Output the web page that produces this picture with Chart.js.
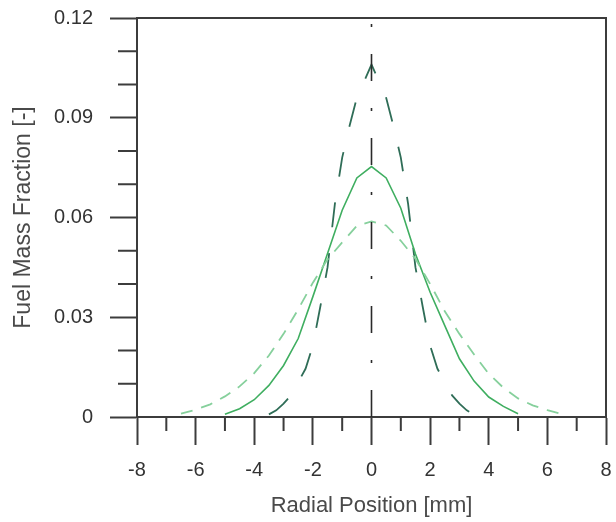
<!DOCTYPE html>
<html lang="en">
<head>
    <meta charset="UTF-8">
    <title>Fuel Mass Fraction vs Radial Position</title>
    <script src="https://cdn.jsdelivr.net/npm/chart.js"></script>
    <style>
        body {
            margin: 0;
            padding: 0;
            background-color: #fff;
        }
        .chart-box {
            width: 616px;
            height: 522px;
        }
    </style>
</head>
<body>
    <div class="chart-box">
        <canvas id="fuelChart"></canvas>
    </div>

    <script>
        // axis ticks
        const xTicks = [-8, -6, -4, -2, 0, 2, 4, 6, 8];
        const xMinorTicks = [-7, -5, -3, -1, 1, 3, 5, 7];
        const yTicks = [0, 0.03, 0.06, 0.09, 0.12];
        const yTickLabels = ['0', '0.03', '0.06', '0.09', '0.12'];
        const yMinorTicks = [0.01, 0.02, 0.04, 0.05, 0.07, 0.08, 0.10, 0.11];

        // solid curve
        const solidX = [-5, -4.5, -4, -3.5, -3, -2.5, -2, -1.5, -1, -0.5, 0, 0.5, 1, 1.5, 2, 2.5, 3, 3.5, 4, 4.5, 5];
        const solidY = [0.0008, 0.0025, 0.0052, 0.0095, 0.0155, 0.0236, 0.0362, 0.0492, 0.0622, 0.0719, 0.0753,
                        0.0719, 0.0628, 0.0490, 0.0375, 0.0275, 0.0175, 0.0108, 0.0060, 0.0032, 0.0010];

        // light short-dash curve
        const lightX = [-6.5, -6, -5.5, -5, -4.5, -4, -3.5, -3, -2.5, -2, -1.5, -1, -0.5, 0,
                        0.5, 1, 1.5, 2, 2.5, 3, 3.5, 4, 4.5, 5, 5.5, 6, 6.5];
        const lightY = [0.0010, 0.0022, 0.0038, 0.0062, 0.0092, 0.0132, 0.0185, 0.0250, 0.0324, 0.0404, 0.0474, 0.0525, 0.0575, 0.0588,
                        0.0576, 0.0530, 0.0476, 0.0400, 0.0318, 0.0250, 0.0188, 0.0130, 0.0088, 0.0056, 0.0035, 0.0021, 0.0009];

        // dark long-dash curve
        const darkX = [-3.5, -3.25, -3, -2.75, -2.5, -2.25, -2, -1.75, -1.5, -1.25, -1, -0.75, -0.5, -0.25, 0,
                       0.25, 0.5, 0.75, 1, 1.25, 1.5, 1.75, 2, 2.25, 2.5, 2.75, 3, 3.25, 3.5];
        const darkY = [0.0008, 0.0020, 0.0040, 0.0065, 0.0105, 0.0145, 0.0215, 0.0330, 0.0450, 0.0640, 0.0780, 0.0875, 0.0960, 0.1010, 0.1060,
                       0.1010, 0.0960, 0.0875, 0.0780, 0.0640, 0.0450, 0.0330, 0.0215, 0.0145, 0.0105, 0.0065, 0.0040, 0.0020, 0.0008];

        // centre line
        const centerX = [0, 0];
        const centerY = [0, 0.12];

        const axisColor = '#3c3c3c';

        function toPoints(xs, ys) {
            return xs.map((x, i) => ({ x: x, y: ys[i] }));
        }

        // top/right frame and the short minor ticks
        const frameAndMinorTicks = {
            id: 'frameAndMinorTicks',
            afterDraw(chart) {
                const ctx = chart.ctx;
                const area = chart.chartArea;
                const xs = chart.scales.x;
                const ys = chart.scales.y;
                ctx.save();
                ctx.strokeStyle = axisColor;
                ctx.lineWidth = 2;
                ctx.beginPath();
                ctx.moveTo(area.left, area.top);
                ctx.lineTo(area.right, area.top);
                ctx.lineTo(area.right, area.bottom);
                xMinorTicks.forEach(v => {
                    const px = xs.getPixelForValue(v);
                    ctx.moveTo(px, area.bottom);
                    ctx.lineTo(px, area.bottom + 14);
                });
                yMinorTicks.forEach(v => {
                    const py = ys.getPixelForValue(v);
                    ctx.moveTo(area.left, py);
                    ctx.lineTo(area.left - 19, py);
                });
                ctx.stroke();
                ctx.restore();
            }
        };

        const ctx = document.getElementById('fuelChart').getContext('2d');
        new Chart(ctx, {
            type: 'line',
            data: {
                datasets: [
                    {
                        label: 'centre',
                        data: toPoints(centerX, centerY),
                        borderColor: '#2a2a2a',
                        borderWidth: 1.6,
                        borderDash: [27, 27, 3, 27]
                    },
                    {
                        label: 'light',
                        data: toPoints(lightX, lightY),
                        borderColor: '#86d09c',
                        borderWidth: 1.8,
                        borderDash: [12, 9]
                    },
                    {
                        label: 'solid',
                        data: toPoints(solidX, solidY),
                        borderColor: '#3fae60',
                        borderWidth: 1.6
                    },
                    {
                        label: 'dark',
                        data: toPoints(darkX, darkY),
                        borderColor: '#2f6d57',
                        borderWidth: 1.8,
                        borderDash: [25, 26]
                    }
                ]
            },
            options: {
                responsive: true,
                maintainAspectRatio: false,
                animation: false,
                layout: {
                    padding: { top: 18, right: 10, bottom: 0, left: 0 }
                },
                elements: {
                    point: { radius: 0 },
                    line: { tension: 0, fill: false }
                },
                plugins: {
                    legend: { display: false },
                    tooltip: { enabled: false }
                },
                scales: {
                    x: {
                        type: 'linear',
                        min: -8,
                        max: 8,
                        afterBuildTicks: function (scale) {
                            scale.ticks = xTicks.map(v => ({ value: v }));
                        },
                        afterFit: function (scale) {
                            scale.height = 105;
                            scale.paddingLeft = 0;
                            scale.paddingRight = 0;
                        },
                        grid: {
                            drawOnChartArea: false,
                            drawTicks: true,
                            tickLength: 28,
                            tickColor: axisColor,
                            tickWidth: 2
                        },
                        border: { display: true, color: axisColor, width: 2 },
                        ticks: {
                            padding: 13,
                            color: '#333',
                            font: { family: 'Liberation Sans, Arial, sans-serif', size: 20 },
                            maxRotation: 0
                        },
                        title: {
                            display: true,
                            text: 'Radial Position [mm]',
                            color: '#4a4a4a',
                            font: { family: 'Liberation Sans, Arial, sans-serif', size: 22 },
                            padding: { top: 0, bottom: 3 }
                        }
                    },
                    y: {
                        min: 0,
                        max: 0.12,
                        afterBuildTicks: function (scale) {
                            scale.ticks = yTicks.map(v => ({ value: v }));
                        },
                        afterFit: function (scale) {
                            scale.width = 137;
                            scale.paddingTop = 0;
                            scale.paddingBottom = 0;
                        },
                        grid: {
                            drawOnChartArea: false,
                            drawTicks: true,
                            tickLength: 27,
                            tickColor: axisColor,
                            tickWidth: 2
                        },
                        border: { display: true, color: axisColor, width: 2 },
                        ticks: {
                            padding: 17,
                            color: '#333',
                            font: { family: 'Liberation Sans, Arial, sans-serif', size: 20 },
                            callback: function (value, index) {
                                return yTickLabels[index];
                            }
                        },
                        title: {
                            display: true,
                            text: 'Fuel Mass Fraction [-]',
                            color: '#4a4a4a',
                            font: { family: 'Liberation Sans, Arial, sans-serif', size: 23 },
                            padding: { top: 10, bottom: 0 }
                        }
                    }
                }
            },
            plugins: [frameAndMinorTicks]
        });
    </script>
</body>
</html>
